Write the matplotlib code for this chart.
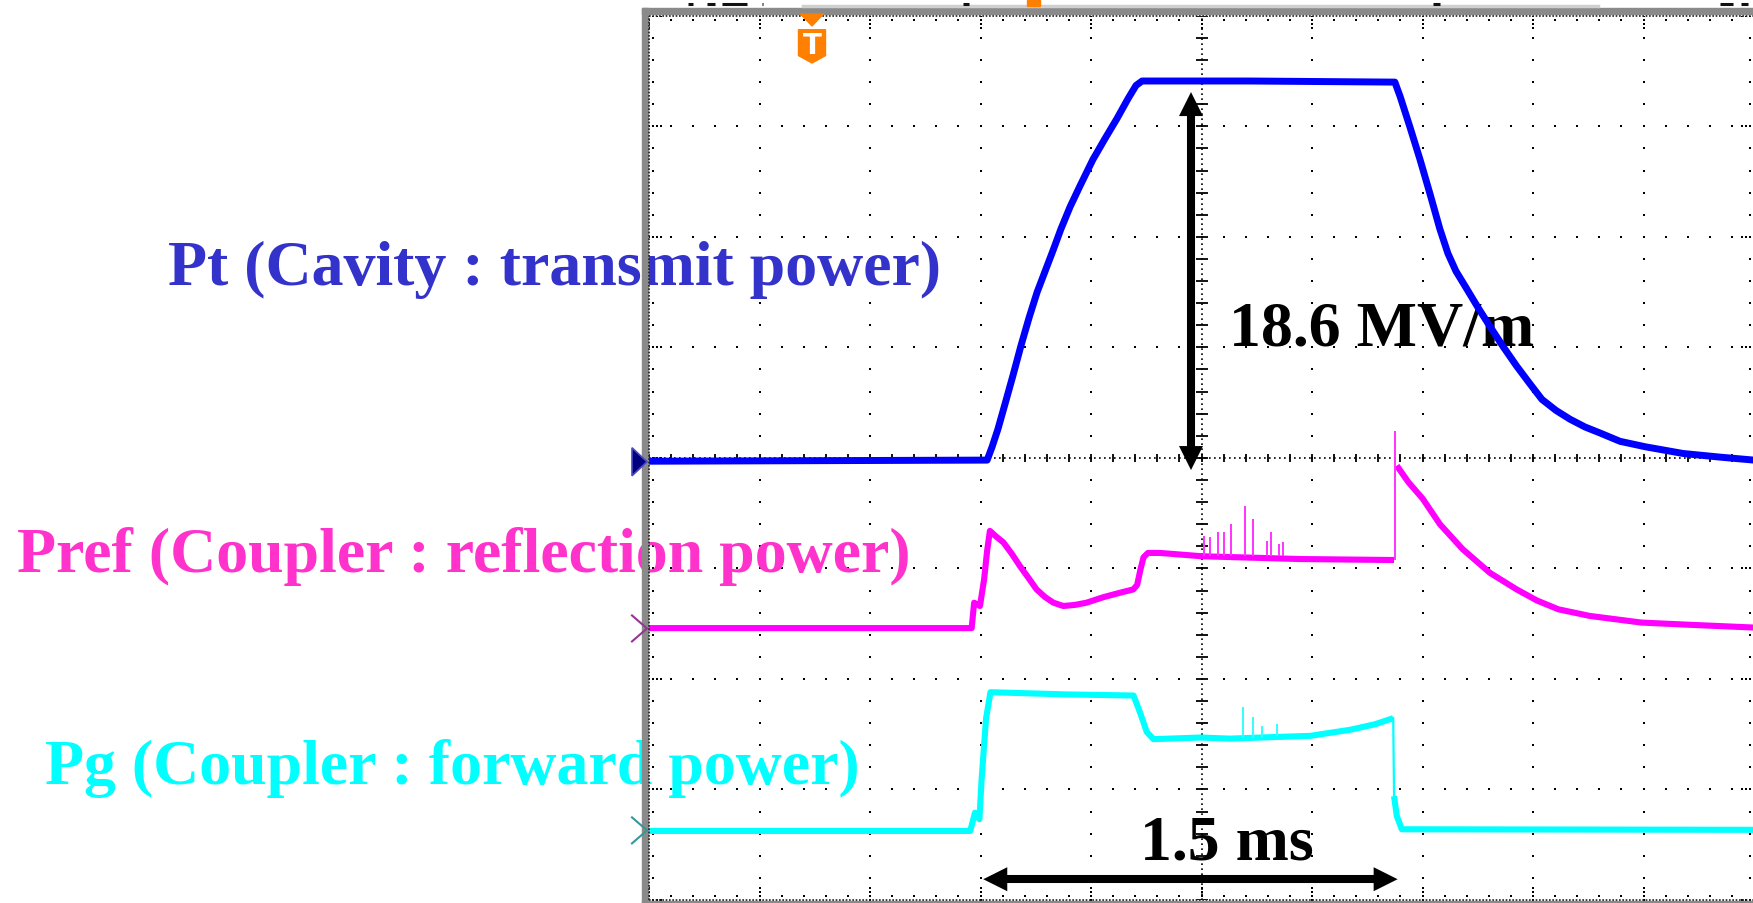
import matplotlib.pyplot as plt
import numpy as np
from matplotlib.patches import Polygon, Rectangle

# scope settings: 0.4 ms/div over 10 div, 8 vertical div (0 = centre line)
ms_per_div = 0.4
n_div_x = 10
n_div_y = 8
t_span = ms_per_div * n_div_x
px_t = ms_per_div / 110.5      # one screen pixel in ms
px_v = 1 / 110.5               # one screen pixel in div

# Pt : cavity transmitted power (blue)
pt_t = [0.000, 1.224, 1.242, 1.263, 1.289, 1.318, 1.347, 1.376, 1.405, 1.434,
        1.463, 1.491, 1.524, 1.560, 1.607, 1.651, 1.694, 1.734, 1.763, 1.785,
        2.176, 2.700, 2.719, 2.755, 2.791, 2.827, 2.863, 2.892, 2.921, 2.960,
        3.001, 3.044, 3.091, 3.141, 3.186, 3.232, 3.283, 3.334, 3.388, 3.443,
        3.515, 3.608, 3.743, 3.877, 4.000]
pt_v = [-0.03, -0.02, 0.10, 0.26, 0.49, 0.75, 1.02, 1.27, 1.50, 1.69,
        1.88, 2.07, 2.27, 2.46, 2.70, 2.89, 3.07, 3.25, 3.37, 3.41,
        3.41, 3.40, 3.27, 2.99, 2.70, 2.39, 2.07, 1.85, 1.69, 1.53,
        1.36, 1.19, 1.01, 0.83, 0.68, 0.53, 0.43, 0.35, 0.28, 0.225,
        0.15, 0.10, 0.04, 0.007, -0.02]

# Pref : coupler reflected power (magenta)
pref_t = [0.000, 1.168, 1.177, 1.198, 1.213, 1.224, 1.234, 1.256, 1.283, 1.314,
          1.343, 1.372, 1.403, 1.434, 1.464, 1.500, 1.542, 1.584, 1.645, 1.705,
          1.753, 1.767, 1.779, 1.790, 1.806, 1.850, 2.002, 2.357, 2.697,
          2.707, 2.749, 2.801, 2.863, 2.945, 3.044, 3.141, 3.214, 3.292, 3.406,
          3.593, 3.768, 4.000]
pref_v = [-1.54, -1.54, -1.31, -1.34, -1.10, -0.84, -0.66, -0.71, -0.765, -0.87,
          -0.98, -1.08, -1.19, -1.26, -1.31, -1.34, -1.33, -1.31, -1.26, -1.22,
          -1.19, -1.15, -1.01, -0.90, -0.86, -0.86, -0.89, -0.915, -0.924,
          -0.07, -0.22, -0.37, -0.60, -0.825, -1.04, -1.19, -1.29, -1.37, -1.43,
          -1.49, -1.51, -1.535]
pref_edge_t = 2.697            # RF off: reflected power jumps
pref_spike_t = [2.009, 2.031, 2.060, 2.081, 2.107, 2.156, 2.186, 2.236, 2.252,
                2.281, 2.295, 2.702]
pref_spike_top = [-0.705, -0.717, -0.672, -0.672, -0.600, -0.433, -0.554, -0.750,
                  -0.672, -0.781, -0.763, 0.245]
pref_spike_base = [-0.89, -0.89, -0.89, -0.89, -0.89, -0.89, -0.89, -0.89,
                   -0.89, -0.89, -0.89, -0.924]

# Pg : coupler forward power (cyan)
pg_t = [0.000, 1.163, 1.180, 1.196, 1.204, 1.220, 1.236, 1.511, 1.754, 1.777,
        1.802, 1.826, 1.996, 2.103, 2.248, 2.393, 2.538, 2.628, 2.694,
        2.697, 2.707, 2.725, 4.000]
pg_v = [-3.375, -3.375, -3.21, -3.27, -2.91, -2.36, -2.12, -2.14, -2.15, -2.30,
        -2.48, -2.545, -2.53, -2.54, -2.527, -2.515, -2.46, -2.41, -2.355,
        -3.06, -3.24, -3.36, -3.365]
pg_edge_t = 2.694              # RF off: forward power drops
pg_spike_t = [2.150, 2.185, 2.218, 2.272]
pg_spike_top = [-2.258, -2.348, -2.424, -2.409]
pg_spike_base = [-2.53, -2.53, -2.53, -2.52]

# channel reference levels (left markers)
ch_levels = [-0.035, -1.543, -3.37]

# annotations
labels = ['Pt (Cavity : transmit power)',
          'Pref (Coupler : reflection power)',
          'Pg (Coupler : forward power)']
label_colors = ['#3333cc', '#ff33cc', '#00ffff']
label_pos = [(-1.741, 1.573), (-2.288, -1.022), (-2.186, -2.943)]
eacc_text = '18.6 MV/m'
eacc_arrow_t = 1.962
eacc_arrow_v = (-0.11, 3.31)
pulse_start = 1.21
pulse_len = 1.5
pulse_arrow_v = -3.812
trig_t = 0.590

fig = plt.figure(figsize=(17.53, 9.04), dpi=100)
ax = fig.add_axes([649 / 1753, 3 / 904, 1105 / 1753, 884.2 / 904])
ax.set_xlim(0, t_span)
ax.set_ylim(-n_div_y / 2, n_div_y / 2)
ax.axis('off')

dot = dict(marker='s', s=4.5, c='#000000', linewidths=0, zorder=1)
minor_x = np.linspace(0, t_span, n_div_x * 5 + 1)
minor_y = np.linspace(-4, 4, n_div_y * 5 + 1)

# dotted graticule
for i in range(1, n_div_x):
    if i == n_div_x // 2:
        continue
    ax.scatter(np.full_like(minor_y, i * ms_per_div), minor_y, **dot)
for j in range(-3, 4):
    if j == 0:
        continue
    ax.scatter(minor_x, np.full_like(minor_x, j), **dot)

# centre cross with tick marks
tc = t_span / 2
ax.plot([0, t_span], [0, 0], color='#000', lw=1.2, ls=(0, (1, 2)), zorder=1)
ax.plot([tc, tc], [-4, 4], color='#000', lw=1.2, ls=(0, (1, 2)), zorder=1)
ax.vlines(minor_x, -4 * px_v, 4 * px_v, color='#000', lw=1.3, zorder=1)
ax.hlines(minor_y, tc - 6 * px_t, tc + 6 * px_t, color='#000', lw=1.3, zorder=1)

# screen border: grey bezel, dotted edge and inward ticks
ax.add_patch(Rectangle((-7 * px_t, -4.03), 5.5 * px_t, 8.1, color='#8a8a8a',
                       clip_on=False, zorder=6))
ax.add_patch(Rectangle((-7 * px_t, 4 + 1.3 * px_v), t_span + 10 * px_t, 6 * px_v,
                       color='#8a8a8a', clip_on=False, zorder=6))
ax.add_patch(Rectangle((-7 * px_t, -4 - 4 * px_v), t_span + 10 * px_t, 3 * px_v,
                       color='#8a8a8a', clip_on=False, zorder=6))
edge = dict(color='#222', lw=1.2, ls=(0, (1, 1)), clip_on=False, zorder=6)
ax.plot([0, 0], [-4, 4], **edge)
ax.plot([0, t_span], [4, 4], **edge)
ax.plot([0, t_span], [-4, -4], **edge)
ax.plot([t_span, t_span], [-4, 4], **edge)
ax.scatter(np.full_like(minor_y, 4 * px_t), minor_y, **dot)
ax.scatter(np.full_like(minor_y, t_span - 4 * px_t), minor_y, **dot)
ax.scatter(minor_x, np.full_like(minor_x, 4 - 4 * px_v), **dot)
ax.scatter(minor_x, np.full_like(minor_x, -4 + 4 * px_v), **dot)
for k in (8, 12):
    ax.scatter(np.full(9, k * px_t), np.arange(-4, 5), **dot)
    ax.scatter(np.full(9, t_span - k * px_t), np.arange(-4, 5), **dot)
    ax.scatter(np.arange(0, 11) * ms_per_div, np.full(11, 4 - k * px_v), **dot)
    ax.scatter(np.arange(0, 11) * ms_per_div, np.full(11, -4 + k * px_v), **dot)

# status strip above the screen
ax.plot([0.557, 3.435], [4.093, 4.093], color='#cfcfcf', lw=2.5,
        clip_on=False, zorder=6)
for a, b in [(0.141, 0.159), (0.210, 0.239), (0.264, 0.355), (0.409, 0.414),
             (1.137, 1.158), (2.838, 2.864), (3.877, 3.924), (3.953, 3.979)]:
    ax.plot([a, b], [4.103, 4.103], color='#111', lw=2.2, clip_on=False,
            solid_capstyle='butt', zorder=6)
ax.add_patch(Rectangle((1.368, 4.085), 0.047, 0.06, color='#ff7f00',
                       clip_on=False, zorder=6))

# trigger marker
w = 11.5 * px_t
ax.add_patch(Polygon([(trig_t - w, 4.016), (trig_t + w, 4.016), (trig_t, 3.908)],
                     closed=True, color='#ff7f00', clip_on=False, zorder=7))
ws = 13.5 * px_t
ax.add_patch(Polygon([(trig_t - ws, 3.874), (trig_t + ws, 3.874),
                      (trig_t + ws, 3.64), (trig_t, 3.573), (trig_t - ws, 3.64)],
                     closed=True, color='#ff7f00', zorder=7))
ax.text(trig_t, 3.735, 'T', color='white', fontsize=20, fontweight='bold',
        ha='center', va='center', family='DejaVu Sans', zorder=8)

# channel ground markers
ax.add_patch(Polygon([(-17 * px_t, ch_levels[0] + 14 * px_v),
                      (-2 * px_t, ch_levels[0]),
                      (-17 * px_t, ch_levels[0] - 14 * px_v)],
                     closed=True, facecolor='#000080', edgecolor='#4a4ac0',
                     lw=1.2, clip_on=False, zorder=7))
for lvl, c in zip(ch_levels[1:], ['#993399', '#339999']):
    ax.plot([-17 * px_t, -2 * px_t, -17 * px_t],
            [lvl + 13 * px_v, lvl, lvl - 13 * px_v],
            color=c, lw=1.5, clip_on=False, zorder=7)

# traces; the fast RF-off edges are drawn as thin lines like the scope does
trace = dict(zorder=5, solid_joinstyle='round', solid_capstyle='butt')
ax.plot(pt_t, pt_v, color='#0000ff', lw=5.0, **trace)

k = pref_t.index(pref_edge_t) + 1
ax.plot(pref_t[:k], pref_v[:k], color='#ff00ff', lw=4.4, **trace)
ax.plot(pref_t[k:], pref_v[k:], color='#ff00ff', lw=4.4, **trace)
ax.vlines(pref_spike_t, pref_spike_base, pref_spike_top, color='#ff33ff',
          lw=1.4, zorder=5)

k = pg_t.index(pg_edge_t) + 1
ax.plot(pg_t[:k], pg_v[:k], color='#00ffff', lw=4.4, **trace)
ax.plot(pg_t[k:], pg_v[k:], color='#00ffff', lw=4.4, **trace)
ax.plot([pg_t[k - 1], pg_t[k]], [pg_v[k - 1], pg_v[k]], color='#00ffff',
        lw=1.6, zorder=5)
ax.vlines(pg_spike_t, pg_spike_base, pg_spike_top, color='#33ffff', lw=1.4,
          zorder=5)

# channel labels
serif = dict(family='Liberation Serif', fontweight='bold', fontsize=46,
             va='baseline', ha='left')
for txt, c, (x, y) in zip(labels, label_colors, label_pos):
    ax.text(x, y, txt, color=c, zorder=4, **serif)


def double_arrow(p0, p1, head_len=24, head_half=12, shaft=5.8):
    """Black double-headed arrow whose tips sit exactly on p0 and p1."""
    (x0, y0), (x1, y1) = p0, p1
    horizontal = y0 == y1
    if horizontal:
        d = head_len * px_t * np.sign(x1 - x0)
        h = head_half * px_v
        heads = [[(x0, y0), (x0 + d, y0 + h), (x0 + d, y0 - h)],
                 [(x1, y1), (x1 - d, y1 + h), (x1 - d, y1 - h)]]
        ax.plot([x0 + 0.8 * d, x1 - 0.8 * d], [y0, y1], color='black', lw=shaft,
                solid_capstyle='butt', zorder=3)
    else:
        d = head_len * px_v * np.sign(y1 - y0)
        h = head_half * px_t
        heads = [[(x0, y0), (x0 + h, y0 + d), (x0 - h, y0 + d)],
                 [(x1, y1), (x1 + h, y1 - d), (x1 - h, y1 - d)]]
        ax.plot([x0, x1], [y0 + 0.8 * d, y1 - 0.8 * d], color='black', lw=shaft,
                solid_capstyle='butt', zorder=3)
    for hd in heads:
        ax.add_patch(Polygon(hd, closed=True, color='black', lw=0, zorder=3))


# accelerating gradient and pulse length
double_arrow((eacc_arrow_t, eacc_arrow_v[0]), (eacc_arrow_t, eacc_arrow_v[1]))
ax.text(2.101, 1.030, eacc_text, color='black', zorder=3, **serif)
double_arrow((pulse_start, pulse_arrow_v),
             (pulse_start + pulse_len, pulse_arrow_v))
ax.text(1.777, -3.629, f'{pulse_len} ms', color='black', zorder=3, **serif)

fig.savefig('out.png', dpi=100, facecolor='white')
